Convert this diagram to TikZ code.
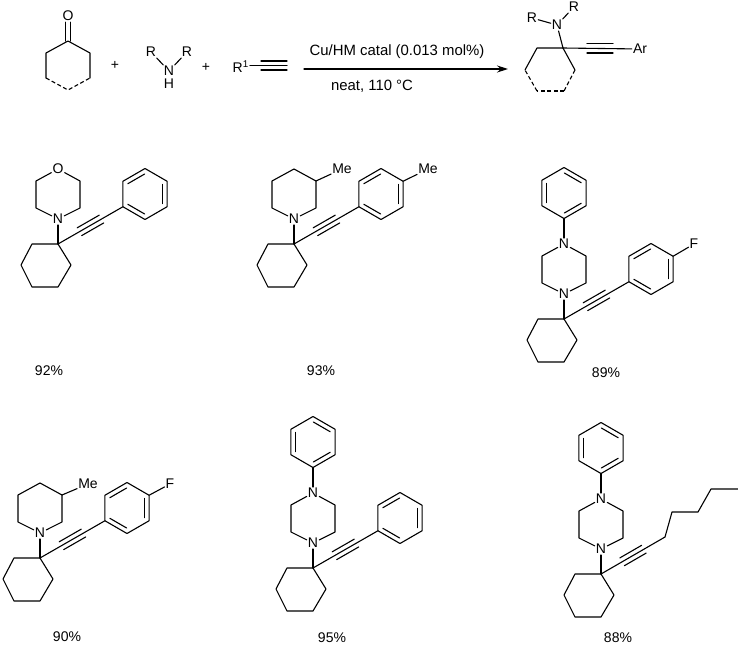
\documentclass[tikz,border=0pt]{standalone}
\usepackage{fontspec}
\setmainfont{Liberation Sans}
\usetikzlibrary{arrows.meta, calc}
\tikzset{
  bond/.style={line width=1.1pt, line join=round, line cap=round},
  dashbond/.style={bond, line cap=butt, dash pattern=on 4pt off 2.5pt},
  atom/.style={inner sep=1pt, font=\fontsize{14}{16}\selectfont},
  txt/.style={inner sep=0pt, font=\fontsize{14}{16}\selectfont},
  condtxt/.style={inner sep=0pt, font=\fontsize{14.9}{17}\selectfont},
}
% ring hanging from the quaternary carbon (q)
\newcommand{\cyclohexyl}{
  \coordinate (q) at (0,0);
  \draw[bond] (q) -- (13,21) -- (0,43) -- (-26,43) -- (-37,21) -- (-26,0) -- cycle;
}
% six-ring between the atoms (n) and (t)
\newcommand{\azaring}{
  \draw[bond] (n) -- (22,-36) -- (22,-63) -- (t);
  \draw[bond] (n) -- (-22,-36) -- (-22,-63) -- (t);
  \draw[bond] (n) -- (q);
}
% benzene round the current origin, #1 = angle of first double bond
\newcommand{\benzene}[1]{
  \draw[bond] (30:25.5) -- (90:25.5) -- (150:25.5) -- (210:25.5) -- (270:25.5) -- (330:25.5) -- cycle;
  \foreach \a in {0,120,240}
    \draw[bond] (#1+\a+1:20) -- (#1+\a+59:20);
}
% alkyne from #1 to #2
\newcommand{\triplebond}[2]{
  \draw[bond] (#1) -- (#2);
  \draw[bond] ($(#1)!.33!(#2)!4.5pt!90:(#2)$) -- ($(#1)!.67!(#2)!4.5pt!90:(#2)$);
  \draw[bond] ($(#1)!.33!(#2)!4.5pt!-90:(#2)$) -- ($(#1)!.67!(#2)!4.5pt!-90:(#2)$);
}
% N-phenyl on top of the ring
\newcommand{\nphenyl}{
  \begin{scope}[shift={(0,-126)}]
    \benzene{30}
    \coordinate (pb) at (90:25.5);
  \end{scope}
  \draw[bond] (t) -- (pb);
}
% aryl alkyne going up right
\newcommand{\arylalkyne}{
  \begin{scope}[shift={(87,-50)}]
    \benzene{90}
    \coordinate (pa) at (150:25.5);
    \coordinate (pp) at (330:25.5);
  \end{scope}
  \triplebond{q}{pa}
}

\begin{document}
\begin{tikzpicture}[x=1pt,y=-1pt]
\useasboundingbox (0,0) rectangle (738,645);
% ketone
\node[atom] (ko) at (68,16) {O};
\coordinate (k1) at (68,41);
\draw[bond] ([xshift=-2.5pt]ko.south) -- ([xshift=-2.5pt]k1);
\draw[bond] ([xshift=2.5pt]ko.south) -- ([xshift=2.5pt]k1);
\draw[bond] (46,78) -- (46,53) -- (k1) -- (90,53) -- (90,78);
\draw[dashbond] (46,78) -- (68,90) -- (90,78);
\node[txt] (plus1) at (115,65) {+};
% amine
\node[atom] (an) at (169,71) {N};
\node[atom] (ah) at (169,84) {H};
\node[atom] (ar1) at (151,52) {R};
\node[atom] (ar2) at (187,52) {R};
\draw[bond] (ar1) -- (an);
\draw[bond] (ar2) -- (an);
\node[txt] (plus2) at (206,67) {+};
% alkyne
\node[atom,anchor=east] (lr) at (250,67) {R\textsuperscript{1}};
\coordinate (lb) at (261,65.5);
\draw[bond] (lr.east |- lb) -- (lb);
\draw[bond] (261,61) -- (287,61);
\draw[bond] (lb) -- (287,65.5);
\draw[bond] (261,70) -- (287,70);
% arrow
\coordinate (a1) at (304,69);
\coordinate (a2) at (508,69);
\draw[bond,-{Stealth[length=11pt,width=7pt]}] (a1) -- (a2);
\node[condtxt] (cond1) at (397,52) {Cu/HM catal (0.013 mol\%)};
\node[condtxt] (cond2) at (372,86) {neat, 110 °C};
% product
\coordinate (pq) at (563,48);
\draw[bond] (pq) -- (575,70);
\draw[dashbond] (575,70) -- (564,91);
\draw[dashbond] (564,91) -- (537,91);
\draw[dashbond] (537,91) -- (525,70);
\draw[bond] (525,70) -- (537,48) -- (pq);
\node[atom] (pn) at (557,25) {N};
\node[atom] (pr1) at (532,18) {R};
\node[atom] (pr2) at (574,7) {R};
\node[atom] (par) at (640,49) {Ar};
\draw[bond] (pn) -- (pq);
\draw[bond] (pr1) -- (pn);
\draw[bond] (pr2) -- (pn);
\draw[bond] (pq) -- (par);
\draw[bond] (587,43.5) -- (613,43.5);
\draw[bond] (587,53) -- (613,53);
% 92%
\begin{scope}[shift={(58,244)},name prefix=a-]
\cyclohexyl
\node[atom] (n) at (0,-25) {N};
\node[atom] (t) at (0,-75) {O};
\azaring
\arylalkyne
\end{scope}
\node[txt] (ya) at (49,371) {92\%};
% 93%
\begin{scope}[shift={(294,244)},name prefix=b-]
\cyclohexyl
\node[atom] (n) at (0,-25) {N};
\coordinate (t) at (0,-75);
\azaring
\node[atom] (me) at (48,-75) {Me};
\draw[bond] (22,-63) -- (me);
\arylalkyne
\node[atom] (me2) at (134,-75) {Me};
\draw[bond] (pp) -- (me2);
\end{scope}
\node[txt] (yb) at (321,371) {93\%};
% 89%
\begin{scope}[shift={(564,319)},name prefix=c-]
\cyclohexyl
\node[atom] (n) at (0,-25) {N};
\node[atom] (t) at (0,-75) {N};
\azaring
\nphenyl
\arylalkyne
\node[atom] (f) at (130,-75) {F};
\draw[bond] (pp) -- (f);
\end{scope}
\node[txt] (yc) at (606,373) {89\%};
% 90%
\begin{scope}[shift={(40,558)},name prefix=d-]
\cyclohexyl
\node[atom] (n) at (0,-25) {N};
\coordinate (t) at (0,-75);
\azaring
\node[atom] (me) at (48,-74) {Me};
\draw[bond] (22,-63) -- (me);
\arylalkyne
\node[atom] (f) at (130,-74) {F};
\draw[bond] (pp) -- (f);
\end{scope}
\node[txt] (yd) at (67,637) {90\%};
% 95%
\begin{scope}[shift={(313,568)},name prefix=e-]
\cyclohexyl
\node[atom] (n) at (0,-25) {N};
\node[atom] (t) at (0,-75) {N};
\azaring
\nphenyl
\arylalkyne
\end{scope}
\node[txt] (ye) at (332,638) {95\%};
% 88%
\begin{scope}[shift={(601,574)},name prefix=f-]
\cyclohexyl
\node[atom] (n) at (0,-25) {N};
\node[atom] (t) at (0,-75) {N};
\azaring
\nphenyl
\coordinate (ch) at (64,-37);
\triplebond{q}{ch}
\draw[bond] (ch) -- (71,-62) -- (97,-62) -- (110,-85) -- (137,-85);
\end{scope}
\node[txt] (yf) at (618,638) {88\%};
\end{tikzpicture}
\end{document}
